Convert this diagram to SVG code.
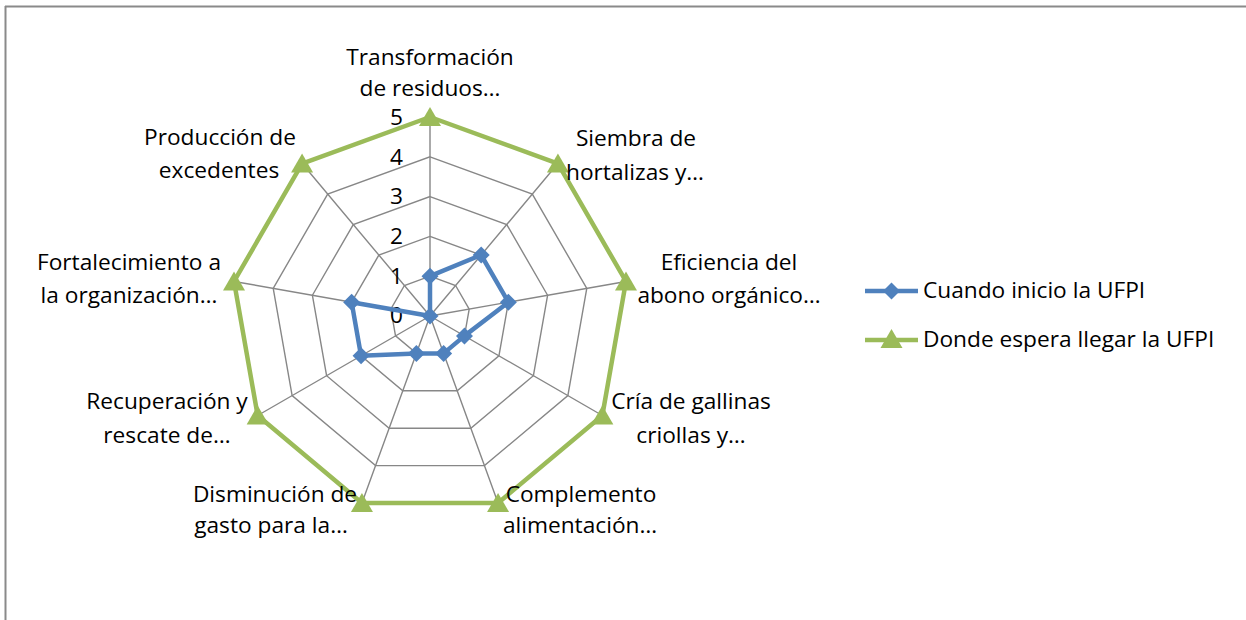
<svg xmlns="http://www.w3.org/2000/svg" xmlns:xlink="http://www.w3.org/1999/xlink" width="1246" height="620" viewBox="0 0 1246 620">
<style>
  .grid { fill: none; stroke: #878787; stroke-width: 1.4; }
  .lbl { font-family: "Open Sans", "Liberation Sans", Arial, sans-serif; font-size: 22.7px; fill: #000; text-anchor: middle; }
  .tick { font-family: "Open Sans", "Liberation Sans", Arial, sans-serif; font-size: 22.7px; fill: #000; text-anchor: end; }
  .leg { font-family: "Open Sans", "Liberation Sans", Arial, sans-serif; font-size: 22.7px; fill: #000; }
  .blue { fill: none; stroke: #4F81BD; stroke-width: 4.5; stroke-linejoin: round; }
  .green { fill: none; stroke: #9BBB59; stroke-width: 4.5; stroke-linejoin: round; }
</style>
<defs>
  <path id="dia" d="M0,-8.5 L8.5,0 L0,8.5 L-8.5,0 Z" fill="#4F81BD"/>
  <path id="tri" d="M0,-10 L11,9 L-11,9 Z" fill="#9BBB59"/>
</defs>
<rect width="1246" height="620" fill="#fff"/>
<g id="frame" stroke="#8a8a8a" stroke-width="2">
  <line x1="5" y1="6.5" x2="1246" y2="6.5"/>
  <line x1="5.5" y1="6" x2="5.5" y2="620"/>
</g>
<g id="grid">
  <polygon class="grid" points="430,276.2 455.58,285.51 469.2,309.09 464.47,335.9 443.61,353.4 416.39,353.4 395.53,335.9 390.8,309.09 404.42,285.51"/>
  <polygon class="grid" points="430,236.4 481.17,255.03 508.39,302.18 498.93,355.8 457.22,390.8 402.78,390.8 361.07,355.8 351.61,302.18 378.83,255.03"/>
  <polygon class="grid" points="430,196.6 506.75,224.54 547.59,295.27 533.4,375.7 470.83,428.2 389.17,428.2 326.6,375.7 312.41,295.27 353.25,224.54"/>
  <polygon class="grid" points="430,156.8 532.33,194.05 586.78,288.36 567.87,395.6 484.45,465.6 375.55,465.6 292.13,395.6 273.22,288.36 327.67,194.05"/>
  <polygon class="grid" points="430,117 557.92,163.57 625.98,281.45 602.34,415.5 498.06,503 361.94,503 257.66,415.5 234.02,281.45 302.08,163.57"/>
  <path class="grid" d="M430,316 L430,117 M430,316 L557.92,163.57 M430,316 L625.98,281.45 M430,316 L602.34,415.5 M430,316 L498.06,503 M430,316 L361.94,503 M430,316 L257.66,415.5 M430,316 L234.02,281.45 M430,316 L302.08,163.57"/>
</g>
<g id="ticks">
  <text class="tick" x="403" y="323">0</text>
  <text class="tick" x="403" y="284">1</text>
  <text class="tick" x="403" y="244">2</text>
  <text class="tick" x="403" y="204">3</text>
  <text class="tick" x="403" y="165">4</text>
  <text class="tick" x="403" y="125">5</text>
</g>
<g id="series-green">
  <polygon class="green" points="430,117 557.92,163.57 625.98,281.45 602.34,415.5 498.06,503 361.94,503 257.66,415.5 234.02,281.45 302.08,163.57"/>
  <use xlink:href="#tri" href="#tri" x="430" y="117"/>
  <use xlink:href="#tri" href="#tri" x="557.92" y="163.57"/>
  <use xlink:href="#tri" href="#tri" x="625.98" y="281.45"/>
  <use xlink:href="#tri" href="#tri" x="602.34" y="415.5"/>
  <use xlink:href="#tri" href="#tri" x="498.06" y="503"/>
  <use xlink:href="#tri" href="#tri" x="361.94" y="503"/>
  <use xlink:href="#tri" href="#tri" x="257.66" y="415.5"/>
  <use xlink:href="#tri" href="#tri" x="234.02" y="281.45"/>
  <use xlink:href="#tri" href="#tri" x="302.08" y="163.57"/>
</g>
<g id="series-blue">
  <polygon class="blue" points="430,276.2 481.17,255.03 508.39,302.18 464.47,335.9 443.61,353.4 416.39,353.4 361.07,355.8 351.61,302.18 430,316"/>
  <use xlink:href="#dia" href="#dia" x="430" y="276.2"/>
  <use xlink:href="#dia" href="#dia" x="481.17" y="255.03"/>
  <use xlink:href="#dia" href="#dia" x="508.39" y="302.18"/>
  <use xlink:href="#dia" href="#dia" x="464.47" y="335.9"/>
  <use xlink:href="#dia" href="#dia" x="443.61" y="353.4"/>
  <use xlink:href="#dia" href="#dia" x="416.39" y="353.4"/>
  <use xlink:href="#dia" href="#dia" x="361.07" y="355.8"/>
  <use xlink:href="#dia" href="#dia" x="351.61" y="302.18"/>
  <use xlink:href="#dia" href="#dia" x="430" y="316"/>
</g>
<g id="axis-labels">
  <text class="lbl" x="430" y="65">Transformación</text>
  <text class="lbl" x="430" y="96">de residuos…</text>
  <text class="lbl" x="636" y="146">Siembra de</text>
  <text class="lbl" x="635" y="180">hortalizas y…</text>
  <text class="lbl" x="729" y="270">Eficiencia del</text>
  <text class="lbl" x="729" y="303">abono orgánico…</text>
  <text class="lbl" x="691" y="409">Cría de gallinas</text>
  <text class="lbl" x="691" y="443">criollas y…</text>
  <text class="lbl" x="581" y="502">Complemento</text>
  <text class="lbl" x="580" y="533">alimentación…</text>
  <text class="lbl" x="275" y="502">Disminución de</text>
  <text class="lbl" x="271" y="533">gasto para la…</text>
  <text class="lbl" x="167" y="409">Recuperación y</text>
  <text class="lbl" x="167" y="443">rescate de…</text>
  <text class="lbl" x="129" y="270">Fortalecimiento a</text>
  <text class="lbl" x="129" y="303">la organización…</text>
  <text class="lbl" x="220" y="145">Producción de</text>
  <text class="lbl" x="219" y="178">excedentes</text>
</g>
<g id="legend">
  <line x1="865" y1="291" x2="918" y2="291" stroke="#4F81BD" stroke-width="4.5"/>
  <use xlink:href="#dia" href="#dia" x="891.5" y="291"/>
  <text class="leg" x="923" y="298">Cuando inicio la UFPI</text>
  <line x1="865" y1="340" x2="918" y2="340" stroke="#9BBB59" stroke-width="4.5"/>
  <use xlink:href="#tri" href="#tri" x="891.5" y="339"/>
  <text class="leg" x="923" y="347">Donde espera llegar la UFPI</text>
</g>
</svg>
